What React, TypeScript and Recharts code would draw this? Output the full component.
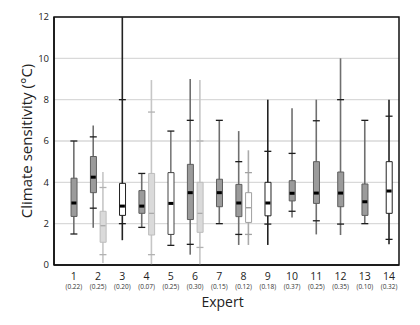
import {
  ComposedChart,
  Bar,
  Scatter,
  XAxis,
  YAxis,
  CartesianGrid,
  Cell,
  Label,
  ReferenceArea,
} from "recharts";

const experts = [1, 2, 3, 4, 5, 6, 7, 8, 9, 10, 11, 12, 13, 14];
const weights = [
  "0.22", "0.25", "0.20", "0.07", "0.25", "0.30", "0.15",
  "0.12", "0.18", "0.37", "0.25", "0.35", "0.10", "0.32",
];
const yTicks = [0, 2, 4, 6, 8, 10, 12];

// [low end, low tick, q1, median, q3, high tick, high end]
const firstEstimate = [
  [1.5, 1.5, 2.35, 3.0, 4.2, 6.0, 6.0],
  [1.8, 2.75, 3.5, 4.25, 5.25, 6.2, 6.75],
  [1.2, 2.0, 2.4, 2.85, 3.95, 8.0, 12],
  [1.82, 1.82, 2.5, 2.85, 3.6, 4.43, 4.43],
  [0.95, 0.95, 1.48, 2.98, 4.47, 6.48, 6.48],
  [0.5, 1.0, 2.2, 3.5, 4.87, 7.0, 9.0],
  [2.0, 2.0, 2.82, 3.5, 4.15, 7.0, 7.0],
  [0.97, 1.48, 2.34, 3.0, 3.9, 5.0, 6.48],
  [0.97, 1.98, 2.38, 3.0, 4.0, 5.5, 8.0],
  [2.3, 2.6, 3.1, 3.47, 4.08, 5.4, 7.58],
  [1.48, 2.14, 2.98, 3.48, 5.0, 6.98, 8.0],
  [1.45, 1.98, 2.82, 3.48, 4.5, 8.0, 10.0],
  [2.0, 2.0, 2.4, 3.06, 3.92, 7.0, 7.0],
  [1.0, 1.24, 2.5, 3.58, 5.0, 7.2, 8.0],
];

// experts who gave a second (light) estimate
const secondExperts = [2, 4, 6, 8];
const secondEstimate = [
  [0.1, 0.5, 1.1, 1.9, 2.6, 3.75, 4.5],
  [0.0, 0.5, 1.45, 2.5, 4.43, 7.4, 8.95],
  [0.0, 0.85, 1.58, 2.5, 4.0, 6.0, 8.95],
  [0.97, 1.48, 2.06, 2.77, 3.5, 4.47, 5.55],
];

const openBoxes = [3, 5, 9, 14];
const blackWhiskers = [3, 9, 14];
const PAIR_OFFSET = 0.2;

type Kind = "gray" | "open" | "openGray" | "light" | "lightOpen";

const palette: Record<Kind, { fill: string; stroke: string; whisker: string; tick: string; med: string }> = {
  gray: { fill: "#9b9b9b", stroke: "#5e5e5e", whisker: "#6f6f6f", tick: "#1e1e1e", med: "#000" },
  open: { fill: "#ffffff", stroke: "#222", whisker: "#222", tick: "#1e1e1e", med: "#000" },
  openGray: { fill: "#ffffff", stroke: "#444", whisker: "#7a7a7a", tick: "#1e1e1e", med: "#000" },
  light: { fill: "#dadada", stroke: "#bdbdbd", whisker: "#c6c6c6", tick: "#b2b2b2", med: "#a6a6a6" },
  lightOpen: { fill: "#ffffff", stroke: "#a0a0a0", whisker: "#ababab", tick: "#a2a2a2", med: "#8e8e8e" },
};

interface Row {
  x: number;
  lo: number;
  p10: number;
  q1: number;
  med: number;
  q3: number;
  p90: number;
  hi: number;
  kind: Kind;
}

function toRow(x: number, s: number[], kind: Kind): Row {
  return { x, lo: s[0], p10: s[1], q1: s[2], med: s[3], q3: s[4], p90: s[5], hi: s[6], kind };
}

const rows: Row[] = [
  ...firstEstimate.map((s, i) => {
    const e = experts[i];
    const x = secondExperts.includes(e) ? e - PAIR_OFFSET : e;
    let kind: Kind = "gray";
    if (openBoxes.includes(e)) kind = blackWhiskers.includes(e) ? "open" : "openGray";
    return toRow(x, s, kind);
  }),
  ...secondEstimate.map((s, i) => {
    const e = secondExperts[i];
    return toRow(e + PAIR_OFFSET, s, e === 8 ? "lightOpen" : "light");
  }),
];

const domainX: [number, number] = [0.18, 14.41];
const font = "'Open Sans', 'DejaVu Sans', sans-serif";

function ExpertTick({ x, y, payload }: { x?: number; y?: number; payload?: { value: number } }) {
  const v = payload?.value ?? 0;
  return (
    <g fontFamily={font}>
      <text x={x} y={(y ?? 0) + 14.5} textAnchor="middle" fontSize={10.5} fill="#222">
        {v}
      </text>
      <text x={x} y={(y ?? 0) + 23.5} textAnchor="middle" fontSize={6.5} fill="#333">
        ({weights[v - 1]})
      </text>
    </g>
  );
}

function TickMark(props: any) {
  const { cx, cy, payload } = props;
  const c = palette[payload.kind as Kind];
  return <line x1={cx - 3.5} x2={cx + 3.5} y1={cy} y2={cy} stroke={c.tick} strokeWidth={1.3} />;
}

function MedianMark(props: any) {
  const { cx, cy, payload } = props;
  const c = palette[payload.kind as Kind];
  if (payload.kind === "light" || payload.kind === "lightOpen") {
    return <line x1={cx - 2.5} x2={cx + 2.5} y1={cy} y2={cy} stroke={c.med} strokeWidth={1.2} />;
  }
  return <rect x={cx - 2.5} y={cy - 1.5} width={5} height={3} fill={c.med} />;
}

export default function App() {
  return (
    <div style={{ width: 420, height: 325, background: "#fff" }}>
      <style>{`body{margin:0}`}</style>
      <ComposedChart
        width={420}
        height={325}
        data={rows}
        margin={{ top: 17, right: 21, bottom: 0, left: 0 }}
      >
        <CartesianGrid vertical={false} stroke="#d9d9d9" strokeWidth={1.4} />

        <XAxis
          xAxisId="main"
          type="number"
          dataKey="x"
          domain={domainX}
          allowDataOverflow
          ticks={experts}
          interval={0}
          tick={<ExpertTick />}
          tickLine={false}
          tickSize={0}
          tickMargin={0}
          axisLine={{ stroke: "#111", strokeWidth: 1.5 }}
          height={60}
        >
          <Label
            content={(p: any) => (
              <text
                x={p.viewBox.x + p.viewBox.width / 2 - 4}
                y={p.viewBox.y + 42}
                textAnchor="middle"
                fontSize={14}
                fontFamily={font}
                fill="#222"
              >
                Expert
              </text>
            )}
          />
        </XAxis>
        <XAxis xAxisId="whisker" type="number" dataKey="x" domain={domainX} allowDataOverflow hide height={0} />
        <XAxis xAxisId="box" type="number" dataKey="x" domain={domainX} allowDataOverflow hide height={0} />

        <YAxis
          type="number"
          domain={[0, 12]}
          ticks={yTicks}
          allowDataOverflow
          width={54}
          tickLine={false}
          tickSize={0}
          tickMargin={5}
          tick={{ fontSize: 9.5, fill: "#222", fontFamily: font }}
          axisLine={{ stroke: "#111", strokeWidth: 1.5 }}
        >
          <Label
            value="Climate sensitivity (°C)"
            angle={-90}
            position="center"
            style={{ fontSize: 15, fontFamily: font, fill: "#222" }}
          />
        </YAxis>

        {/* plot frame */}
        <ReferenceArea
          xAxisId="main"
          x1={domainX[0]}
          x2={domainX[1]}
          y1={0}
          y2={12}
          fill="none"
          stroke="#111"
          strokeWidth={1.5}
          fillOpacity={0}
          ifOverflow="visible"
        />

        {/* whiskers */}
        <Bar
          xAxisId="whisker"
          dataKey={(d: Row) => [d.lo, d.hi]}
          barSize={1.6}
          isAnimationActive={false}
        >
          {rows.map((r, i) => (
            <Cell key={i} fill={palette[r.kind].whisker} />
          ))}
        </Bar>

        {/* interquartile boxes */}
        <Bar
          xAxisId="box"
          dataKey={(d: Row) => [d.q1, d.q3]}
          barSize={6}
          isAnimationActive={false}
        >
          {rows.map((r, i) => (
            <Cell key={i} fill={palette[r.kind].fill} stroke={palette[r.kind].stroke} strokeWidth={1} />
          ))}
        </Bar>

        {/* 10th / 90th percentile ticks and medians */}
        <Scatter xAxisId="main" dataKey="p10" shape={<TickMark />} isAnimationActive={false} />
        <Scatter xAxisId="main" dataKey="p90" shape={<TickMark />} isAnimationActive={false} />
        <Scatter xAxisId="main" dataKey="med" shape={<MedianMark />} isAnimationActive={false} />
      </ComposedChart>
    </div>
  );
}
